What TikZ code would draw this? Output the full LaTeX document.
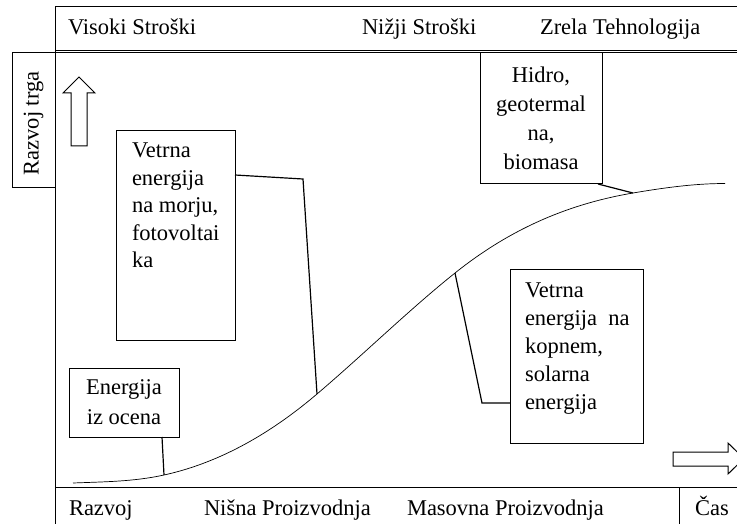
\documentclass[tikz,border=0pt]{standalone}
\usepackage{fontspec}
\setmainfont{Liberation Serif}
\usetikzlibrary{calc}
\begin{document}
\begin{tikzpicture}[x=1pt,y=-1pt,
  every node/.style={font=\fontsize{22.5}{28.5}\selectfont, inner sep=0pt, outer sep=0pt},
  box/.style={draw, line width=1pt, rectangle},
  lbl/.style={anchor=base west},
  frame/.style={line width=1pt},
  conn/.style={line width=1.2pt},
  curve/.style={line width=0.7pt},
  bigarrow/.style={draw, line width=1pt, fill=white}]
\useasboundingbox (0,0) rectangle (737,524);
\clip (0,0) rectangle (737,524);
% frame
\draw[frame] (737,7) -- (55,7) -- (55,524);
\draw[frame] (55,50.5) -- (737,50.5);
\draw[frame] (55,53) -- (737,53);
\draw[frame] (55,487) -- (737,487);
\draw[frame] (679,487) -- (679,524);
% left label box
\node[box, minimum width=43pt, minimum height=135pt, anchor=north west] (trgbox) at (12,53) {};
\node[rotate=90] (trg) at ($(trgbox.center)+(0,3)$) {Razvoj trga};
% top labels
\node[lbl] (visoki) at (68,35) {Visoki Stroški};
\node[lbl] (nizji) at (362,35) {Nižji Stroški};
\node[lbl] (zrela) at (540,35) {Zrela Tehnologija};
% bottom labels
\node[lbl] (razvoj) at (69,515) {Razvoj};
\node[lbl] (nisna) at (204,515) {Nišna Proizvodnja};
\node[lbl] (masovna) at (407,515) {Masovna Proizvodnja};
\node[lbl] (cas) at (695,515) {Čas};
% arrows
\draw[bigarrow] (79,77) -- (95,93) -- (87,93) -- (87,146) -- (71,146) -- (71,93) -- (63,93) -- cycle;
\draw[bigarrow] (673,452) -- (728,452) -- (728,443) -- (744,458.5) -- (728,474) -- (728,466) -- (673,466) -- cycle;
% boxes
\node[box, minimum width=110pt, minimum height=69pt, align=center, font=\fontsize{22.5}{30}\selectfont] (ocena) at (124,402.5) {Energija\\iz ocena};
\node[box, minimum width=122pt, minimum height=131pt, align=center, font=\fontsize{22.5}{29}\selectfont] (hidro) at (541,118.5) {Hidro,\\geotermal\\na,\\biomasa};
\node[box, minimum width=119pt, minimum height=209pt, anchor=north west] (morje) at (116,131) {};
\node[anchor=north west, align=left, font=\fontsize{22.5}{27.5}\selectfont] (morjetxt) at (132,143) {Vetrna\\energija\\na morju,\\fotovoltai\\ka};
\node[box, minimum width=133pt, minimum height=174pt, anchor=north west] (kopnem) at (510,269) {};
\node[anchor=north west, align=left, font=\fontsize{22.5}{28}\selectfont] (kopnemtxt) at (525,283) {Vetrna\\energija\ \ na\\kopnem,\\solarna\\energija};
% curve
\coordinate (c1) at (73,483);
\coordinate (pA) at (164,475);
\coordinate (pB) at (317,394);
\coordinate (pC) at (455,273);
\coordinate (pD) at (633,193);
\coordinate (cE) at (725,183.5);
\draw[curve] (c1) .. controls (103.3,481.8) and (133.7,481.7) .. (pA)
  .. controls (215,463.8) and (266,437.4) .. (pB)
  .. controls (363,354.9) and (409,309.8) .. (pC)
  .. controls (514.3,225.6) and (573.7,203.1) .. (pD)
  .. controls (663.7,187.8) and (694.3,183.5) .. (cE);
% connectors
\coordinate (mb) at (303,179);
\coordinate (kb) at (482,403);
\draw[conn] ($(ocena.south west)+(93,0)$) -- (pA);
\draw[conn] ($(morje.north east)+(0,44)$) -- (mb) -- (pB);
\draw[conn] ($(kopnem.north west)+(0,134)$) -- (kb) -- (pC);
\draw[conn] ($(hidro.south east)+(-4,0)$) -- (pD);
\end{tikzpicture}
\end{document}
